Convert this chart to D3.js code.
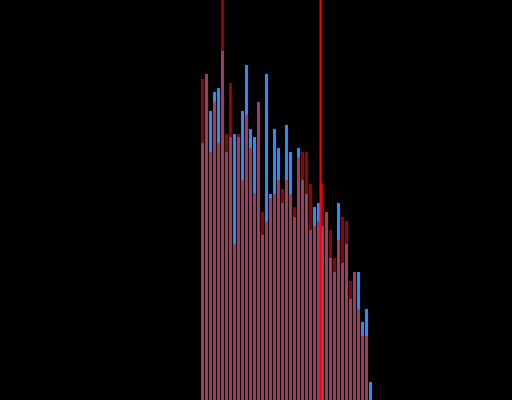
<!DOCTYPE html>
<html>
<head>
<meta charset="utf-8">
<script src="https://cdn.jsdelivr.net/npm/d3@7"></script>
<style>
  html, body { margin: 0; padding: 0; background: #000; }
  svg { display: block; }
</style>
</head>
<body>
<div id="chart"></div>
<script>
const width = 512;
const height = 400;

// histogram bins (left edges, width 1)
const binStart = 50;
const binCount = 43;
const bins = d3.range(binCount).map((i) => binStart + i);

// counts per bin
const blueCounts = [25.7, 32.6, 28.9, 30.8, 31.2, 34.9, 24.8, 26.3, 26.6, 26.3,
  28.9, 33.5, 27.1, 26.3, 29.8, 16.5, 32.6, 20.6, 27.1, 25.2,
  19.7, 27.5, 24.8, 18.3, 25.2, 22.0, 20.6, 17.0, 19.3, 19.7,
  17.4, 18.8, 14.2, 12.8, 19.7, 13.7, 15.6, 10.1, 12.8, 12.8,
  7.8, 9.1, 1.8];
const redCounts = [32.1, 32.6, 24.8, 29.8, 25.7, 45.0, 26.6, 31.7, 15.6, 26.6,
  22.0, 28.5, 25.2, 20.7, 29.8, 18.8, 17.9, 20.2, 20.6, 22.0,
  21.1, 22.0, 20.6, 19.3, 24.3, 24.8, 24.8, 21.6, 17.4, 17.9,
  21.6, 18.8, 17.0, 14.2, 16.0, 18.3, 17.9, 11.9, 12.8, 9.1,
  6.4, 6.4, 0];

// marker line
const markerValue = 80.125;

const x = d3.scaleLinear().domain([0, 128]).range([0, width]);
const y = d3.scaleLinear().domain([0, 40]).range([height, 0]);

const svg = d3.select('#chart')
  .append('svg')
  .attr('width', width)
  .attr('height', height)
  .style('background', '#000');

svg.append('defs').append('clipPath')
  .attr('id', 'clip')
  .append('rect')
  .attr('width', width)
  .attr('height', height);

const plot = svg.append('g').attr('clip-path', 'url(#clip)');

function drawBars(counts, cls, fill, opacity) {
  plot.selectAll(`rect.${cls}`)
    .data(bins.map((b, i) => ({ x0: b, x1: b + 1, v: counts[i] })))
    .enter()
    .append('rect')
    .attr('class', cls)
    .attr('x', (d) => x(d.x0) + 1)
    .attr('width', (d) => x(d.x1) - x(d.x0) - 1)
    .attr('y', (d) => y(d.v))
    .attr('height', (d) => y(0) - y(d.v))
    .attr('fill', fill)
    .attr('fill-opacity', opacity)
    .attr('shape-rendering', 'crispEdges');
}

drawBars(blueCounts, 'blue', '#1e90ff', 1);
drawBars(redCounts, 'red', '#ff0000', 0.6);

plot.append('line')
  .attr('x1', x(markerValue))
  .attr('x2', x(markerValue))
  .attr('y1', 0)
  .attr('y2', height)
  .attr('stroke', '#ff0000')
  .attr('stroke-width', 2);
</script>
</body>
</html>
